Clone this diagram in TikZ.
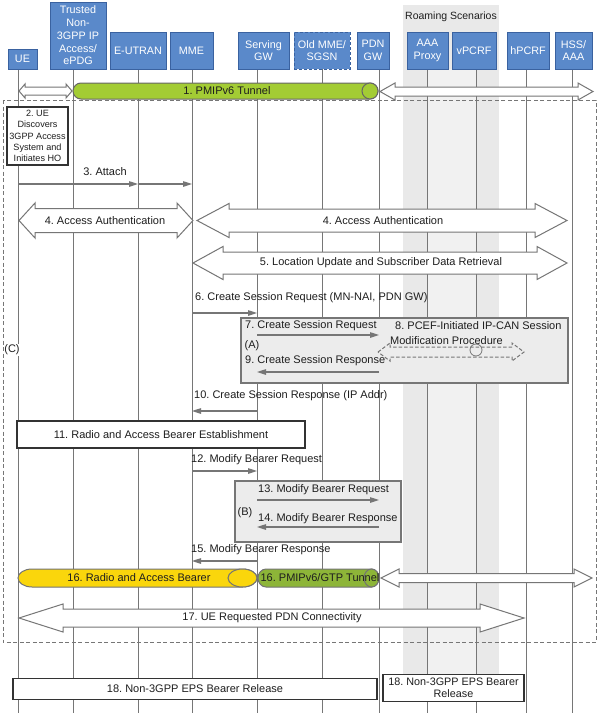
\documentclass[tikz,border=0pt]{standalone}
\usepackage{fontspec}
\setmainfont{Liberation Sans}
\usetikzlibrary{arrows.meta,calc}
\definecolor{hdrblue}{RGB}{90,137,202}
\definecolor{hdredge}{RGB}{58,98,160}
\definecolor{linegray}{RGB}{118,118,118}
\definecolor{bandgray}{RGB}{233,233,233}
\definecolor{bandlight}{RGB}{241,241,241}
\definecolor{boxgray}{RGB}{236,236,236}
\definecolor{tunnelgreen}{RGB}{163,204,52}
\definecolor{tunneldark}{RGB}{141,181,56}
\definecolor{beareryellow}{RGB}{250,214,12}
\definecolor{txt}{RGB}{30,30,30}
\tikzset{
  hdr/.style={draw=hdredge, fill=hdrblue, text=white, font=\fontsize{10.8}{12.7}\selectfont, align=center, inner sep=0pt, line width=0.8pt},
  life/.style={draw=linegray, line width=1pt},
  msg/.style={draw=linegray, line width=1.1pt, -{Triangle[length=9pt,width=5.5pt]}},
  lbl/.style={font=\fontsize{11}{13}\selectfont, inner sep=0pt, text=txt},
  blockarrow/.style={draw=linegray, fill=white, line width=1pt, line join=miter},
  whitebox/.style={draw=black!80, fill=white, line width=1.2pt, inner sep=0pt},
  graybox/.style={draw=linegray, fill=boxgray, line width=1.3pt},
}
\newcommand\blockdbl[7][]{%
  \draw[blockarrow,#1] (#2,#4) -- ({#2+#7},{#4-#6}) -- ({#2+#7},{#4-#5}) -- ({#3-#7},{#4-#5}) -- ({#3-#7},{#4-#6}) -- (#3,#4) -- ({#3-#7},{#4+#6}) -- ({#3-#7},{#4+#5}) -- ({#2+#7},{#4+#5}) -- ({#2+#7},{#4+#6}) -- cycle;}
\newcommand\cyl[8]{%
  \filldraw[fill=#7, draw=#8, line width=1pt] ({#1+#5},{#3-#4}) -- ({#2-#6},{#3-#4}) arc[start angle=90,end angle=-90,x radius=#6pt,y radius=#4pt] -- ({#1+#5},{#3+#4}) arc[start angle=270,end angle=90,x radius=#5pt,y radius=#4pt] -- cycle;
  \filldraw[fill=#7, draw=#8, line width=1pt] ({#2-#6},#3) ellipse[x radius=#6pt, y radius=#4pt];}
\begin{document}
\frenchspacing
\begin{tikzpicture}[x=1pt,y=-1pt]
\useasboundingbox (0,0) rectangle (599,713);
\fill[white] (0,0) rectangle (599,713);
% roaming band
\fill[bandgray] (403,5) rectangle (499,674);
\fill[bandlight] (427,69) rectangle (476,674);
\node[lbl, font=\fontsize{10.5}{12}\selectfont] (roam) at (451,17) {Roaming Scenarios};
% dashed frame (C)
\draw[draw=linegray, line width=1pt, dash pattern=on 4pt off 2.5pt] (3,100) rectangle (596,642);
% lifeline coordinates
\coordinate (lUE) at (18,69);
\coordinate (lTN) at (73,69);
\coordinate (lEU) at (138,69);
\coordinate (lMME) at (192,69);
\coordinate (lSGW) at (257,69);
\coordinate (lOLD) at (322,69);
\coordinate (lPGW) at (379,69);
\coordinate (lAAA) at (427,69);
\coordinate (lVP) at (476,69);
\coordinate (lHP) at (526,69);
\coordinate (lHSS) at (572,69);
\foreach \l in {lUE,lTN,lEU,lMME,lSGW,lOLD,lPGW,lAAA,lVP,lHP,lHSS}
  \draw[life] (\l) -- (\l |- 0,713);
% headers
\node[hdr, minimum width=29pt, minimum height=20pt] (ue) at (22.5,59) {UE};
\node[hdr, minimum width=56pt, minimum height=67pt] (tn) at (78,35.5) {Trusted\\Non-\\3GPP IP\\Access/\\ePDG};
\node[hdr, minimum width=56pt, minimum height=37pt] (eutran) at (138,50.5) {E-UTRAN};
\node[hdr, minimum width=43pt, minimum height=37pt] (mme) at (191.5,50.5) {MME};
\node[hdr, minimum width=51pt, minimum height=37pt] (sgw) at (263.5,50.5) {Serving\\GW};
\node[hdr, minimum width=56pt, minimum height=37pt, dash pattern=on 3pt off 2pt] (oldmme) at (322,50.5) {Old MME/\\SGSN};
\node[hdr, minimum width=32pt, minimum height=37pt] (pgw) at (373,50.5) {PDN\\GW};
\node[hdr, minimum width=41pt, minimum height=37pt] (aaa) at (427.5,50.5) {AAA\\Proxy};
\node[hdr, minimum width=44pt, minimum height=37pt] (vpcrf) at (474,50.5) {vPCRF};
\node[hdr, minimum width=42pt, minimum height=37pt] (hpcrf) at (528,50.5) {hPCRF};
\node[hdr, minimum width=37pt, minimum height=37pt] (hss) at (573.5,50.5) {HSS/\\AAA};
% 1. PMIPv6 tunnel
\blockdbl{19}{72}{91}{4}{7}{6}
\cyl{73}{378}{91}{8}{8}{8}{tunnelgreen}{black!60}
\node[lbl] (m1) at (227,91) {1. PMIPv6 Tunnel};
\blockdbl{380}{593}{91.5}{4.5}{8.5}{15}
% 2
\node[whitebox, minimum width=61pt, minimum height=58pt, align=center, font=\fontsize{9.1}{11.2}\selectfont, text=txt] (s2) at (37.5,136) {2. UE\\Discovers\\3GPP Access\\System and\\Initiates HO};
% 3 Attach
\draw[msg] (lUE |- 0,184) -- (lEU |- 0,184);
\draw[msg] (lEU |- 0,184) -- (lMME |- 0,184);
\node[lbl] (m3) at (105,172) {3. Attach};
% 4 Access Authentication
\blockdbl{19}{193}{220.5}{12}{17.5}{16}
\node[lbl] (m4a) at (105,221) {4. Access Authentication};
\blockdbl{197}{567}{220.5}{11.5}{17}{32}
\node[lbl] (m4b) at (383,221) {4. Access Authentication};
% 5
\blockdbl{193}{567}{263}{11}{16.5}{30}
\node[lbl] (m5) at (381,263) {5. Location Update and Subscriber Data Retrieval};
% 6
\draw[msg] (lMME |- 0,313) -- (lSGW |- 0,313);
\node[lbl, anchor=west] (m6) at (195,298) {6. Create Session Request (MN-NAI, PDN GW)};
% box A
\draw[graybox] (241,318) rectangle (568,383);
\node[lbl] (la) at (252,346) {(A)};
\draw[msg] (lSGW |- 0,335) -- (lPGW |- 0,335);
\node[lbl, anchor=west] (m7) at (245,325.5) {7. Create Session Request};
\node[lbl, anchor=west] (m8a) at (395,325.5) {8. PCEF-Initiated IP-CAN Session};
\node[lbl, anchor=west] (m8b) at (390,340.5) {Modification Procedure};
\blockdbl[dashed, fill=none, dash pattern=on 3.5pt off 2pt]{378}{524}{352}{5}{9}{12}
\draw[draw=linegray, line width=0.8pt] (476,350) circle[radius=6pt];
\draw[msg] (lPGW |- 0,372) -- (lSGW |- 0,372);
\node[lbl, anchor=west] (m9) at (245,361) {9. Create Session Response};
% 10
\draw[msg] (lSGW |- 0,411) -- (lMME |- 0,411);
\node[lbl, anchor=west] (m10) at (194,396) {10. Create Session Response (IP Addr)};
% 11
\node[whitebox, minimum width=288pt, minimum height=27pt, font=\fontsize{11}{13}\selectfont, text=txt] (s11) at (161,434.5) {11. Radio and Access Bearer Establishment};
% 12
\draw[msg] (lMME |- 0,471) -- (lSGW |- 0,471);
\node[lbl, anchor=west] (m12) at (191,460) {12. Modify Bearer Request};
% box B
\draw[graybox] (235,481) rectangle (401,542);
\node[lbl] (lb) at (245,513) {(B)};
\draw[msg] (lSGW |- 0,500) -- (lPGW |- 0,500);
\node[lbl, anchor=west] (m13) at (258,490) {13. Modify Bearer Request};
\draw[msg] (lPGW |- 0,527) -- (lSGW |- 0,527);
\node[lbl, anchor=west] (m14) at (258,519) {14. Modify Bearer Response};
% 15
\draw[msg] (lSGW |- 0,561) -- (lMME |- 0,561);
\node[lbl, anchor=west] (m15) at (191,550) {15. Modify Bearer Response};
% 16
\cyl{18}{257}{578}{9}{14}{14.5}{beareryellow}{black!55}
\node[lbl] (m16a) at (139,578) {16. Radio and Access Bearer};
\cyl{258}{379}{578}{9}{8}{7.5}{tunneldark}{black!55}
\node[lbl] (m16b) at (320,578) {16. PMIPv6/GTP Tunnel};
\blockdbl{381}{592}{578}{4.5}{9}{18}
% 17
\blockdbl{19}{524}{618}{9}{14}{44}
\node[lbl] (m17) at (272,618) {17. UE Requested PDN Connectivity};
% (C)
\node[lbl, fill=white, inner sep=0.5pt] (lc) at (12,350) {(C)};
% 18
\node[whitebox, minimum width=364pt, minimum height=21pt, font=\fontsize{11}{13}\selectfont, text=txt] (s18a) at (195,689) {18. Non-3GPP EPS Bearer Release};
\node[whitebox, minimum width=141pt, minimum height=27pt, align=center, font=\fontsize{10.8}{12.5}\selectfont, text=txt] (s18b) at (453.5,688) {18. Non-3GPP EPS Bearer\\Release};
\end{tikzpicture}
\end{document}
